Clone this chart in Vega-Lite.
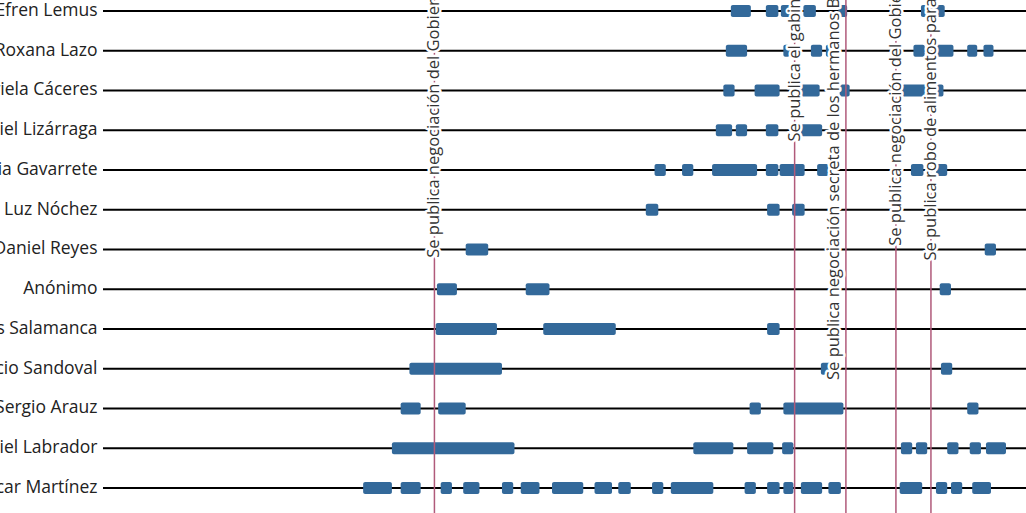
{
  "$schema": "https://vega.github.io/schema/vega-lite/v6.json",
  "autosize": "none",
  "width": 923,
  "height": 520,
  "padding": {"left": 103, "top": 0, "right": 0, "bottom": 0},
  "background": "white",
  "config": {"view": {"stroke": null}, "font": "Open Sans"},
  "datasets": {
    "people": [
      {"name": "Efren Lemus"}, {"name": "Roxana Lazo"}, {"name": "Gabriela Cáceres"},
      {"name": "Daniel Lizárraga"}, {"name": "Julia Gavarrete"}, {"name": "María Luz Nóchez"},
      {"name": "Daniel Reyes"}, {"name": "Anónimo"}, {"name": "Carlos Salamanca"},
      {"name": "Mauricio Sandoval"}, {"name": "Sergio Arauz"}, {"name": "Gabriel Labrador"},
      {"name": "Óscar Martínez"}
    ],
    "periods": [
      {"name": "Efren Lemus", "start": "2021-04-28", "end": "2021-05-14"},
      {"name": "Efren Lemus", "start": "2021-05-26", "end": "2021-06-05"},
      {"name": "Efren Lemus", "start": "2021-06-07", "end": "2021-06-15"},
      {"name": "Efren Lemus", "start": "2021-06-25", "end": "2021-07-05"},
      {"name": "Efren Lemus", "start": "2021-07-23", "end": "2021-07-30"},
      {"name": "Efren Lemus", "start": "2021-09-27", "end": "2021-10-16"},
      {"name": "Roxana Lazo", "start": "2021-04-24", "end": "2021-05-11"},
      {"name": "Roxana Lazo", "start": "2021-06-09", "end": "2021-06-14"},
      {"name": "Roxana Lazo", "start": "2021-07-01", "end": "2021-07-10"},
      {"name": "Roxana Lazo", "start": "2021-07-13", "end": "2021-07-17"},
      {"name": "Roxana Lazo", "start": "2021-09-21", "end": "2021-09-30"},
      {"name": "Roxana Lazo", "start": "2021-10-09", "end": "2021-10-23"},
      {"name": "Roxana Lazo", "start": "2021-11-03", "end": "2021-11-11"},
      {"name": "Roxana Lazo", "start": "2021-11-16", "end": "2021-11-24"},
      {"name": "Gabriela Cáceres", "start": "2021-04-22", "end": "2021-05-01"},
      {"name": "Gabriela Cáceres", "start": "2021-05-17", "end": "2021-06-06"},
      {"name": "Gabriela Cáceres", "start": "2021-06-23", "end": "2021-07-08"},
      {"name": "Gabriela Cáceres", "start": "2021-07-24", "end": "2021-08-01"},
      {"name": "Gabriela Cáceres", "start": "2021-09-12", "end": "2021-10-15"},
      {"name": "Daniel Lizárraga", "start": "2021-04-16", "end": "2021-04-29"},
      {"name": "Daniel Lizárraga", "start": "2021-05-02", "end": "2021-05-11"},
      {"name": "Daniel Lizárraga", "start": "2021-05-26", "end": "2021-06-05"},
      {"name": "Daniel Lizárraga", "start": "2021-06-23", "end": "2021-07-10"},
      {"name": "Daniel Lizárraga", "start": "2021-07-17", "end": "2021-07-25"},
      {"name": "Julia Gavarrete", "start": "2021-02-26", "end": "2021-03-07"},
      {"name": "Julia Gavarrete", "start": "2021-03-20", "end": "2021-03-29"},
      {"name": "Julia Gavarrete", "start": "2021-04-13", "end": "2021-05-19"},
      {"name": "Julia Gavarrete", "start": "2021-05-26", "end": "2021-06-05"},
      {"name": "Julia Gavarrete", "start": "2021-06-06", "end": "2021-06-26"},
      {"name": "Julia Gavarrete", "start": "2021-07-06", "end": "2021-07-15"},
      {"name": "Julia Gavarrete", "start": "2021-09-19", "end": "2021-09-29"},
      {"name": "Julia Gavarrete", "start": "2021-10-09", "end": "2021-10-18"},
      {"name": "María Luz Nóchez", "start": "2021-02-19", "end": "2021-03-01"},
      {"name": "María Luz Nóchez", "start": "2021-05-27", "end": "2021-06-06"},
      {"name": "María Luz Nóchez", "start": "2021-06-16", "end": "2021-06-26"},
      {"name": "Daniel Reyes", "start": "2020-09-28", "end": "2020-10-16"},
      {"name": "Daniel Reyes", "start": "2021-11-17", "end": "2021-11-26"},
      {"name": "Anónimo", "start": "2020-09-05", "end": "2020-09-21"},
      {"name": "Anónimo", "start": "2020-11-15", "end": "2020-12-04"},
      {"name": "Anónimo", "start": "2021-10-12", "end": "2021-10-21"},
      {"name": "Carlos Salamanca", "start": "2020-09-04", "end": "2020-10-23"},
      {"name": "Carlos Salamanca", "start": "2020-11-29", "end": "2021-01-26"},
      {"name": "Carlos Salamanca", "start": "2021-05-27", "end": "2021-06-06"},
      {"name": "Mauricio Sandoval", "start": "2020-08-14", "end": "2020-10-27"},
      {"name": "Mauricio Sandoval", "start": "2021-07-09", "end": "2021-07-18"},
      {"name": "Mauricio Sandoval", "start": "2021-10-13", "end": "2021-10-22"},
      {"name": "Sergio Arauz", "start": "2020-08-07", "end": "2020-08-23"},
      {"name": "Sergio Arauz", "start": "2020-09-06", "end": "2020-09-28"},
      {"name": "Sergio Arauz", "start": "2021-05-13", "end": "2021-05-22"},
      {"name": "Sergio Arauz", "start": "2021-06-09", "end": "2021-07-27"},
      {"name": "Sergio Arauz", "start": "2021-11-03", "end": "2021-11-12"},
      {"name": "Gabriel Labrador", "start": "2020-07-31", "end": "2020-11-06"},
      {"name": "Gabriel Labrador", "start": "2021-03-29", "end": "2021-04-30"},
      {"name": "Gabriel Labrador", "start": "2021-05-11", "end": "2021-06-01"},
      {"name": "Gabriel Labrador", "start": "2021-06-08", "end": "2021-06-17"},
      {"name": "Gabriel Labrador", "start": "2021-09-11", "end": "2021-09-20"},
      {"name": "Gabriel Labrador", "start": "2021-09-23", "end": "2021-10-02"},
      {"name": "Gabriel Labrador", "start": "2021-10-18", "end": "2021-10-27"},
      {"name": "Gabriel Labrador", "start": "2021-11-05", "end": "2021-11-14"},
      {"name": "Gabriel Labrador", "start": "2021-11-18", "end": "2021-12-04"},
      {"name": "Óscar Martínez", "start": "2020-07-08", "end": "2020-07-31"},
      {"name": "Óscar Martínez", "start": "2020-08-07", "end": "2020-08-23"},
      {"name": "Óscar Martínez", "start": "2020-09-08", "end": "2020-09-17"},
      {"name": "Óscar Martínez", "start": "2020-09-26", "end": "2020-10-09"},
      {"name": "Óscar Martínez", "start": "2020-10-27", "end": "2020-11-05"},
      {"name": "Óscar Martínez", "start": "2020-11-11", "end": "2020-11-26"},
      {"name": "Óscar Martínez", "start": "2020-12-06", "end": "2020-12-31"},
      {"name": "Óscar Martínez", "start": "2021-01-09", "end": "2021-01-23"},
      {"name": "Óscar Martínez", "start": "2021-01-28", "end": "2021-02-07"},
      {"name": "Óscar Martínez", "start": "2021-02-24", "end": "2021-03-05"},
      {"name": "Óscar Martínez", "start": "2021-03-11", "end": "2021-04-14"},
      {"name": "Óscar Martínez", "start": "2021-05-09", "end": "2021-05-18"},
      {"name": "Óscar Martínez", "start": "2021-05-27", "end": "2021-06-06"},
      {"name": "Óscar Martínez", "start": "2021-06-09", "end": "2021-06-17"},
      {"name": "Óscar Martínez", "start": "2021-06-23", "end": "2021-07-10"},
      {"name": "Óscar Martínez", "start": "2021-07-15", "end": "2021-07-25"},
      {"name": "Óscar Martínez", "start": "2021-09-10", "end": "2021-09-28"},
      {"name": "Óscar Martínez", "start": "2021-10-09", "end": "2021-10-18"},
      {"name": "Óscar Martínez", "start": "2021-10-21", "end": "2021-10-30"},
      {"name": "Óscar Martínez", "start": "2021-11-07", "end": "2021-11-22"}
    ],
    "events": [
      {"id": 1, "date": "2020-09-03", "label": "Se publica negociación del Gobierno con la MS-13"},
      {"id": 2, "date": "2021-06-18", "label": "Se publica el gabinete de la familia"},
      {"id": 3, "date": "2021-07-29", "label": "Se publica negociación secreta de los hermanos Bukele con MS13"},
      {"id": 4, "date": "2021-09-07", "label": "Se publica negociación del Gobierno en cárceles"},
      {"id": 5, "date": "2021-10-05", "label": "Se publica robo de alimentos para los más pobres"}
    ]
  },
  "layer": [
    {
      "data": {"name": "people"},
      "mark": {"type": "rule", "color": "black", "strokeWidth": 2},
      "encoding": {
        "y": {
          "field": "name", "type": "nominal",
          "scale": {
            "type": "band",
            "domain": ["Efren Lemus", "Roxana Lazo", "Gabriela Cáceres", "Daniel Lizárraga", "Julia Gavarrete", "María Luz Nóchez", "Daniel Reyes", "Anónimo", "Carlos Salamanca", "Mauricio Sandoval", "Sergio Arauz", "Gabriel Labrador", "Óscar Martínez"],
            "paddingInner": 0.7, "paddingOuter": 0.391, "align": 0.162
          },
          "axis": {"title": null, "domain": false, "ticks": false, "labelFontSize": 17.5, "labelColor": "#222222", "labelPadding": 6, "labelFont": "Open Sans", "labelLimit": 0}
        }
      }
    },
    {
      "data": {"name": "periods"},
      "mark": {"type": "bar", "color": "#33699a", "cornerRadius": 2},
      "encoding": {
        "x": {"field": "start", "type": "temporal", "axis": null,
              "scale": {"domain": [{"year": 2019, "month": 12, "date": 13, "utc": true}, {"year": 2021, "month": 12, "date": 20, "utc": true}]}},
        "x2": {"field": "end"},
        "y": {"field": "name", "type": "nominal"}
      }
    },
    {
      "data": {"name": "events"},
      "mark": {"type": "rule", "color": "#b05a7a", "strokeWidth": 1.5},
      "encoding": {"x": {"field": "date", "type": "temporal"}}
    },
    {
      "data": {"name": "events"},
      "transform": [{"filter": "datum.id != 3"}],
      "mark": {"type": "text", "angle": 270, "align": "right", "baseline": "middle", "dx": 134, "fontSize": 16.5, "font": "Open Sans", "color": "white", "stroke": "white", "strokeWidth": 5, "strokeJoin": "round"},
      "encoding": {"x": {"field": "date", "type": "temporal"}, "y": {"datum": "Efren Lemus", "type": "nominal"}, "text": {"field": "label"}}
    },
    {
      "data": {"name": "events"},
      "transform": [{"filter": "datum.id != 3"}],
      "mark": {"type": "text", "angle": 270, "align": "right", "baseline": "middle", "dx": 134, "fontSize": 16.5, "font": "Open Sans", "color": "#333333"},
      "encoding": {"x": {"field": "date", "type": "temporal"}, "y": {"datum": "Efren Lemus", "type": "nominal"}, "text": {"field": "label"}}
    },
    {
      "data": {"name": "events"},
      "transform": [{"filter": "datum.id == 3"}],
      "mark": {"type": "text", "angle": 270, "align": "right", "baseline": "middle", "dx": 134, "dy": -12, "fontSize": 16.5, "font": "Open Sans", "color": "white", "stroke": "white", "strokeWidth": 5, "strokeJoin": "round"},
      "encoding": {"x": {"field": "date", "type": "temporal"}, "y": {"datum": "Efren Lemus", "type": "nominal"}, "text": {"field": "label"}}
    },
    {
      "data": {"name": "events"},
      "transform": [{"filter": "datum.id == 3"}],
      "mark": {"type": "text", "angle": 270, "align": "right", "baseline": "middle", "dx": 134, "dy": -12, "fontSize": 16.5, "font": "Open Sans", "color": "#333333"},
      "encoding": {"x": {"field": "date", "type": "temporal"}, "y": {"datum": "Efren Lemus", "type": "nominal"}, "text": {"field": "label"}}
    }
  ]
}
